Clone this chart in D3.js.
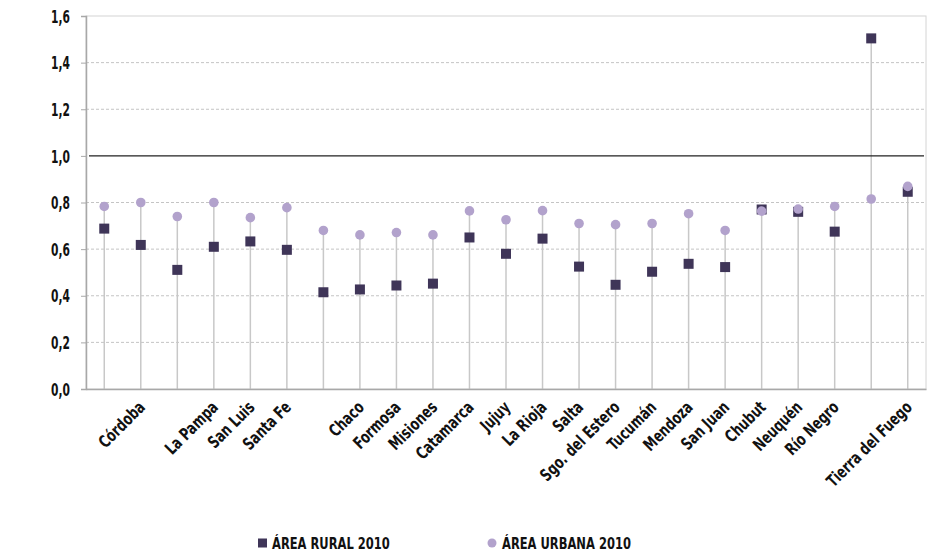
<!DOCTYPE html>
<html>
<head>
<meta charset="utf-8">
<script src="https://cdn.jsdelivr.net/npm/d3@7"></script>
<style>
  body { margin: 0; background: #fff; }
  text { font-family: "DejaVu Sans Condensed", "DejaVu Sans", sans-serif; font-stretch: condensed; font-weight: bold; fill: #111; }
</style>
</head>
<body>
<svg id="chart"></svg>
<script>
// category labels (empty where the original shows no label)
var labels = ["", "Córdoba", "", "La Pampa", "San Luis", "Santa Fe", "", "Chaco", "Formosa",
  "Misiones", "Catamarca", "Jujuy", "La Rioja", "Salta", "Sgo. del Estero", "Tucumán",
  "Mendoza", "San Juan", "Chubut", "Neuquén", "Río Negro", "", "Tierra del Fuego"];

var rural = [0.688, 0.618, 0.511, 0.610, 0.633, 0.597, 0.415, 0.427, 0.444, 0.452, 0.650,
  0.580, 0.645, 0.525, 0.447, 0.503, 0.537, 0.523, 0.770, 0.760, 0.675, 1.504, 0.846];

var urbana = [0.783, 0.800, 0.740, 0.800, 0.735, 0.778, 0.680, 0.661, 0.671, 0.661, 0.764,
  0.726, 0.765, 0.710, 0.705, 0.710, 0.752, 0.680, 0.763, 0.772, 0.783, 0.815, 0.869];

var yTicks = [0, 0.2, 0.4, 0.6, 0.8, 1.0, 1.2, 1.4, 1.6];
var legendNames = ["ÁREA RURAL 2010", "ÁREA URBANA 2010"];

var W = 952, H = 555;
var margin = { top: 16, right: 26, bottom: 166, left: 86 },
  width = W - margin.left - margin.right,
  height = H - margin.top - margin.bottom;

var ruralColor = "#3f3558", urbanColor = "#b2a2cc";
var squeeze = 0.8; // the original font is a narrow condensed face

var svg = d3.select("#chart").attr("width", W).attr("height", H);
var g = svg.append("g").attr("transform", "translate(" + margin.left + "," + margin.top + ")");

var x = d3.scaleBand().domain(d3.range(labels.length)).range([0, width]);
var y = d3.scaleLinear().domain([0, 1.6]).range([height, 0]);
var cx = function (i) { return x(i) + x.bandwidth() / 2; };

// gridlines
g.selectAll(".grid").data(yTicks.filter(function (d) { return d > 0 && d < 1.6 && d !== 1.0; }))
  .enter().append("line")
  .attr("x1", 0).attr("x2", width)
  .attr("y1", function (d) { return y(d); }).attr("y2", function (d) { return y(d); })
  .attr("stroke", "#c4c4c4").attr("stroke-width", 1).attr("stroke-dasharray", "3,2");

// plot border
g.append("rect").attr("x", 0).attr("y", 0).attr("width", width).attr("height", height)
  .attr("fill", "none").attr("stroke", "#d4d4d4").attr("stroke-width", 1);

// drop lines
g.selectAll(".drop").data(rural).enter().append("line")
  .attr("x1", function (d, i) { return cx(i); }).attr("x2", function (d, i) { return cx(i); })
  .attr("y1", y(0))
  .attr("y2", function (d, i) { return y(Math.max(d, urbana[i])); })
  .attr("stroke", "#c8c8c8").attr("stroke-width", 1.5);

// reference line at 1,0
g.append("line").attr("x1", 3).attr("x2", width - 2)
  .attr("y1", y(1)).attr("y2", y(1))
  .attr("stroke", "#222").attr("stroke-width", 1.3);

// y axis
var yAxis = g.append("g").call(d3.axisLeft(y).tickValues(yTicks).tickSize(5)
  .tickFormat(function (d) { return d3.format(".1f")(d).replace(".", ","); }));
yAxis.select(".domain").attr("stroke", "#a8a8a8").attr("stroke-width", 1.5);
yAxis.selectAll(".tick line").attr("stroke", "#a8a8a8");
yAxis.selectAll(".tick text")
  .attr("x", -16 / 0.7).attr("dy", "0.36em")
  .attr("transform", "scale(0.7,1)")
  .style("font-size", "17px").style("font-family", "'DejaVu Sans Condensed', 'DejaVu Sans', sans-serif")
  .style("font-weight", "bold").attr("fill", "#111");

// x axis
var xAxis = g.append("g").attr("transform", "translate(0," + height + ")")
  .call(d3.axisBottom(x).tickSize(0).tickFormat(function (i) { return labels[i]; }));
xAxis.select(".domain").attr("stroke", "#a8a8a8").attr("stroke-width", 1.5);
xAxis.selectAll(".tick text")
  .attr("transform", "translate(1,15) rotate(-45) scale(" + squeeze + ",1)")
  .attr("text-anchor", "end").attr("x", 0).attr("y", 0).attr("dy", "0.36em")
  .style("font-size", "17px").style("font-family", "'DejaVu Sans Condensed', 'DejaVu Sans', sans-serif")
  .style("font-weight", "bold").attr("fill", "#111");

// rural markers
g.selectAll(".rural").data(rural).enter().append("rect")
  .attr("x", function (d, i) { return cx(i) - 5; })
  .attr("y", function (d) { return y(d) - 5; })
  .attr("width", 10).attr("height", 10)
  .attr("fill", ruralColor);

// urban markers
g.selectAll(".urban").data(urbana).enter().append("circle")
  .attr("cx", function (d, i) { return cx(i); })
  .attr("cy", function (d) { return y(d); })
  .attr("r", 4.8)
  .attr("fill", urbanColor);

// legend
var leg = svg.append("g").attr("transform", "translate(0,543)");
leg.append("rect").attr("x", 258).attr("y", -4.5).attr("width", 9).attr("height", 9).attr("fill", ruralColor);
leg.append("text").attr("transform", "translate(272,0) scale(0.8,1)").attr("dy", "0.36em")
  .style("font-size", "16px").text(legendNames[0]);
leg.append("circle").attr("cx", 492).attr("cy", 0).attr("r", 4.5).attr("fill", urbanColor);
leg.append("text").attr("transform", "translate(502,0) scale(0.8,1)").attr("dy", "0.36em")
  .style("font-size", "16px").text(legendNames[1]);
</script>
</body>
</html>
